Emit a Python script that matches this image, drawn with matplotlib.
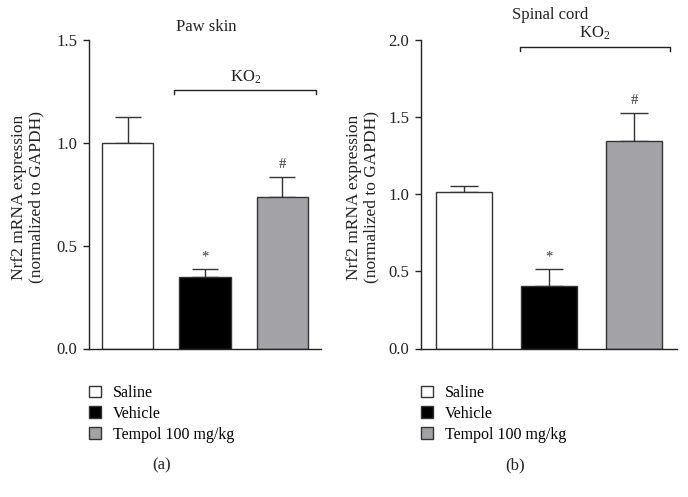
import matplotlib
matplotlib.use("Agg")
import matplotlib.pyplot as plt
from matplotlib.patches import Patch

plt.rcParams['font.family'] = ['Liberation Serif', 'DejaVu Serif']
plt.rcParams['mathtext.default'] = 'regular'

groups = ["Saline", "Vehicle", "Tempol 100 mg/kg"]
colors = ["#ffffff", "#000000", "#a3a3a7"]

paw_means = [1.00, 0.346, 0.738]
paw_err = [0.127, 0.042, 0.096]
paw_marks = ["", "*", "#"]

spinal_means = [1.017, 0.403, 1.347]
spinal_err = [0.038, 0.112, 0.182]
spinal_marks = ["", "*", "#"]

titles = ["Paw skin", "Spinal cord"]
panel_labels = ["(a)", "(b)"]
ylabel = "Nrf2 mRNA expression\n(normalized to GAPDH)"

W, H = 688, 497
fig = plt.figure(figsize=(W / 100, H / 100), dpi=100)

def fx(px):
    return px / W

def fy(py):
    return 1 - py / H

edge = "#333333"

panels = [
    dict(x0=89, x1=321, ymax=1.5, yticks=[0.0, 0.5, 1.0, 1.5], means=paw_means, err=paw_err,
         marks=paw_marks, capsize=9.4, bracket=(0.594, 2.43, 1.257, 0.02), ko=(1.53, 1.277),
         title_xy=(206, 27), ylab_x=-0.263, panel_xy=(162, 465), leg_x=89),
    dict(x0=421, x1=677, ymax=2.0, yticks=[0.0, 0.5, 1.0, 1.5, 2.0], means=spinal_means, err=spinal_err,
         marks=spinal_marks, capsize=10.0, bracket=(0.66, 2.42, 1.953, 0.025), ko=(1.54, 1.985),
         title_xy=(550, 15), ylab_x=-0.227, panel_xy=(515, 465), leg_x=421),
]

for p, title, plab in zip(panels, titles, panel_labels):
    ax = fig.add_axes([fx(p['x0']), fy(348.5), fx(p['x1'] - p['x0']), (348.5 - 40) / H])
    x = list(range(len(groups)))
    ax.bar(x, p['means'], width=0.66, color=colors, edgecolor=edge, linewidth=1.0, zorder=2)
    ax.errorbar(x, p['means'], yerr=[[0] * 3, p['err']], fmt='none', ecolor=edge,
                elinewidth=1.0, capsize=p['capsize'], capthick=1.0, zorder=1)
    for xi, m, e, mk in zip(x, p['means'], p['err'], p['marks']):
        if mk:
            ax.annotate(mk, (xi, m + e), xytext=(0, 4), textcoords='offset points',
                        ha='center', va='bottom', fontsize=10.5, color='#333333')
    ax.set_xlim(-0.5, 2.5)
    ax.set_ylim(0, p['ymax'])
    ax.set_yticks(p['yticks'])
    ax.set_yticklabels([f"{v:.1f}" for v in p['yticks']])
    ax.set_xticks([])
    for s in ['top', 'right']:
        ax.spines[s].set_visible(False)
    for s in ['left', 'bottom']:
        ax.spines[s].set_linewidth(1.0)
        ax.spines[s].set_color('#222222')
    ax.tick_params(axis='y', direction='out', length=4, width=1.0, pad=4.5,
                   labelsize=12, colors='#222222')
    ax.set_ylabel(ylabel, fontsize=12.5, linespacing=1.1, va='center', color='#222222')
    ax.yaxis.set_label_coords(p['ylab_x'], 0.49)
    # KO2 bracket
    bx0, bx1, by, bd = p['bracket']
    ax.plot([bx0, bx0, bx1, bx1], [by - bd, by, by, by - bd], color='#222222',
            linewidth=1.0, clip_on=False)
    ax.text(p['ko'][0], p['ko'][1], "KO$_2$", ha='center', va='bottom', fontsize=12,
            color='#222222')
    fig.text(fx(p['title_xy'][0]), fy(p['title_xy'][1]), title, ha='center', va='center',
             fontsize=12, color='#222222')
    fig.text(fx(p['panel_xy'][0]), fy(p['panel_xy'][1]), plab, ha='center', va='center',
             fontsize=12, color='#222222')
    handles = [Patch(facecolor=c, edgecolor=edge, linewidth=1.0) for c in colors]
    fig.legend(handles, groups, loc='upper left', bbox_to_anchor=(fx(p['leg_x']), fy(385)),
               frameon=False, fontsize=11.5, handlelength=0.75, handleheight=0.75,
               handletextpad=0.75, labelspacing=0.3, borderpad=0, borderaxespad=0)

fig.savefig("out.png", dpi=100)
